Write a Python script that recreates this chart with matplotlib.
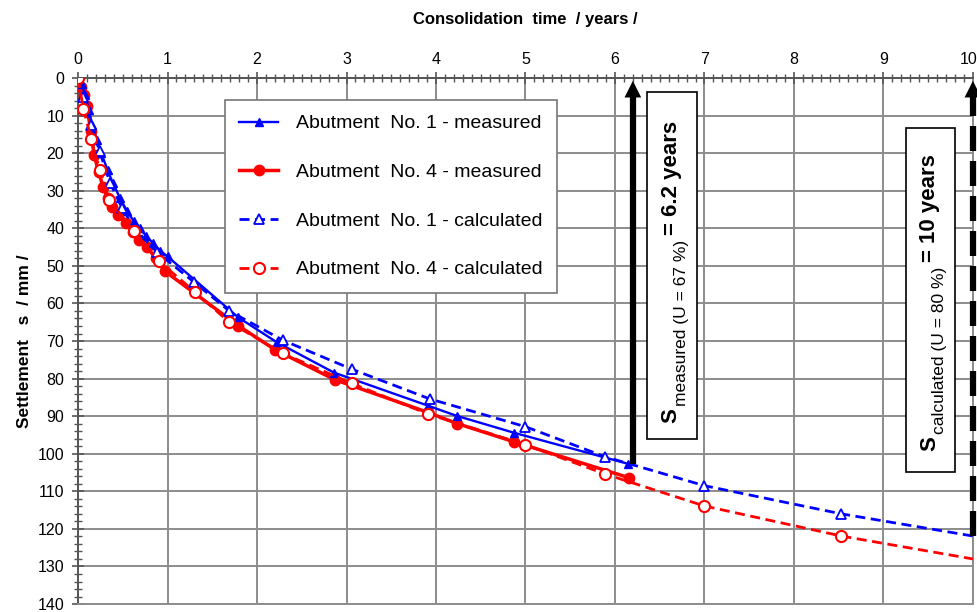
import matplotlib
matplotlib.use('Agg')
import matplotlib.pyplot as plt
from matplotlib.ticker import MultipleLocator, FuncFormatter
from matplotlib.patches import Rectangle
from matplotlib.font_manager import FontProperties

plt.rcParams['font.family'] = ['Liberation Sans', 'DejaVu Sans']

# Abutment No. 1 - measured
t1_meas = [0, 0.04, 0.08, 0.12, 0.16, 0.21, 0.26, 0.33, 0.39, 0.47, 0.55, 0.62, 0.69, 0.76,
           0.84, 0.92, 1.0, 1.79, 2.22, 2.86, 3.91, 4.23, 4.87, 6.15]
s1_meas = [0, 1.5, 4.5, 8.5, 12.5, 16.5, 20, 24.5, 28, 32, 35.5, 38, 40, 42,
           44, 46, 47.5, 63.7, 70.3, 78.4, 87.2, 89.9, 94.4, 102.7]

# Abutment No. 4 - measured
t4_meas = [0, 0.03, 0.07, 0.1, 0.14, 0.18, 0.23, 0.28, 0.33, 0.38, 0.45, 0.54, 0.61, 0.68,
           0.77, 0.87, 0.97, 1.79, 2.2, 2.87, 3.91, 4.24, 4.87, 6.16]
s4_meas = [0, 2.5, 4.5, 7.5, 14, 20.5, 25, 29, 32, 34.4, 36.5, 38.7, 41, 43.2,
           45, 48, 51.4, 65.9, 72.3, 80.3, 89, 92, 96.8, 106.4]

# Abutment No. 1 - calculated
t1_calc = [0, 0.05, 0.15, 0.24, 0.36, 0.49, 0.63, 0.88, 1.3, 1.69, 2.29, 3.06, 3.93,
           5.0, 5.89, 7.0, 8.53, 10.0]
s1_calc = [0, 5, 12.5, 19.5, 28, 34.5, 40, 46.3, 54.4, 62, 69.8, 77.5, 85.4,
           92.8, 100.8, 108.5, 116, 121.9]

# Abutment No. 4 - calculated
t4_calc = [0, 0.06, 0.15, 0.24, 0.35, 0.62, 0.9, 1.31, 1.69, 2.29, 3.06, 3.91,
           5.0, 5.89, 7.0, 8.53, 10.0]
s4_calc = [0, 8.3, 16.3, 24.4, 32.4, 40.7, 48.7, 57, 65, 73.3, 81.3, 89.4,
           97.6, 105.4, 113.9, 121.9, 128]

t_measured, s_measured = 6.2, 102.7
t_calculated, s_calculated = 10.0, 122
t_max = 10

fig = plt.figure(figsize=(9.78, 6.12), dpi=100)
ax = fig.add_axes([0.0798, 0.013, 0.915, 0.8595])

blue = '#0000FF'
red = '#FF0000'

ax.plot(t1_meas, s1_meas, '-', color=blue, lw=1.7, marker='^', ms=6, zorder=5,
        label='Abutment  No. 1 - measured')
ax.plot(t4_meas, s4_meas, '-', color=red, lw=2.5, marker='o', ms=7.5, zorder=4,
        label='Abutment  No. 4 - measured')
ax.plot(t1_calc, s1_calc, '--', color=blue, lw=2, marker='^', ms=7, mfc='white',
        mew=1.3, markevery=slice(0, len(t1_calc) - 1), dashes=(3.6, 2), zorder=6,
        label='Abutment  No. 1 - calculated')
ax.plot(t4_calc, s4_calc, '--', color=red, lw=2, marker='o', ms=8, mfc='white',
        mew=1.5, markevery=slice(0, len(t4_calc) - 1), dashes=(3.6, 2), zorder=6,
        label='Abutment  No. 4 - calculated')

# arrows
ax.plot([t_measured, t_measured], [s_measured, 4], color='black', lw=4.5, zorder=7,
        solid_capstyle='butt')
ax.annotate('', xy=(t_measured, 0), xytext=(t_measured, 5),
            arrowprops=dict(arrowstyle='-|>', color='black', lw=0, mutation_scale=30),
            zorder=7)
ax.plot([t_calculated, t_calculated], [s_calculated, 4], color='black', lw=4.5,
        dashes=(4, 1.6), zorder=7, clip_on=False)
ax.annotate('', xy=(t_calculated, 0), xytext=(t_calculated, 5),
            arrowprops=dict(arrowstyle='-|>', color='black', lw=0, mutation_scale=30),
            zorder=7, annotation_clip=False)

# annotation boxes with S_sub (...) = ... years, written bottom to top
renderer = fig.canvas.get_renderer()
fp_main = FontProperties(family='Liberation Sans', weight='bold', size=16)
fp_sub = FontProperties(family='Liberation Sans', size=12.5)


def text_len(s, fp):
    w, h, d = renderer.get_text_width_height_descent(s, fp, ismath=False)
    return w * 72.0 / fig.dpi


def vertical_label(t, s, main, sub, rest):
    kw = dict(xycoords='data', textcoords='offset points', rotation=90,
              rotation_mode='anchor', ha='left', va='baseline', zorder=9,
              annotation_clip=False)
    ax.annotate(main, xy=(t, s), xytext=(0, 0), fontproperties=fp_main, **kw)
    off = text_len(main, fp_main) + 1.5
    ax.annotate(sub, xy=(t, s), xytext=(6.5, off), fontproperties=fp_sub, **kw)
    off += text_len(sub, fp_sub) + 3
    ax.annotate(rest, xy=(t, s), xytext=(0, off), fontproperties=fp_main, **kw)


ax.add_patch(Rectangle((6.36, 3.7), 0.56, 92.3, fc='white', ec='black', lw=1.2, zorder=8))
vertical_label(6.69, 91.7, 'S', 'measured (U = 67 %)', '= 6.2 years')
ax.add_patch(Rectangle((9.25, 13.3), 0.55, 91.5, fc='white', ec='black', lw=1.2, zorder=8))
vertical_label(9.58, 99.2, 'S', 'calculated (U = 80 %)', '= 10 years')

ax.set_xlim(0, t_max)
ax.set_ylim(140, 0)
ax.xaxis.set_major_locator(MultipleLocator(1))
ax.xaxis.set_minor_locator(MultipleLocator(0.1))
ax.yaxis.set_major_locator(MultipleLocator(10))
ax.yaxis.set_minor_locator(MultipleLocator(2))
# last label ("10") is drawn separately, right-aligned, so it stays in the picture
ax.xaxis.set_major_formatter(FuncFormatter(lambda v, p: '' if v >= t_max else '%d' % v))
ax.xaxis.tick_top()
ax.xaxis.set_label_position('top')
ax.tick_params(axis='both', which='major', direction='inout', length=8, width=1.2,
               color='#555555', labelsize=11.5, pad=6)
ax.tick_params(axis='x', which='major', pad=4)
ax.tick_params(axis='both', which='minor', direction='inout', length=6, width=1,
               color='#555555')
ax.tick_params(axis='x', which='both', bottom=False, top=True)
ax.tick_params(axis='y', which='both', left=True, right=False)
ax.annotate('%d' % t_max, xy=(t_max, 1), xycoords=('data', 'axes fraction'),
            xytext=(3, 8), textcoords='offset points', ha='right', va='bottom',
            fontsize=11.5, annotation_clip=False)
ax.grid(True, which='major', color='#8c8c8c', lw=1.4)
for side, sp in ax.spines.items():
    sp.set_color('#8c8c8c')
    sp.set_linewidth(1.4)
ax.spines['left'].set_color('#555555')
ax.spines['top'].set_color('#555555')

ax.set_xlabel('Consolidation  time  / years /', fontsize=12, fontweight='bold', labelpad=20)
ax.set_ylabel('Settlement   s  / mm /', fontsize=12.5, fontweight='bold', labelpad=4)

leg = ax.legend(loc='upper left', bbox_to_anchor=(0.164, 0.958), borderaxespad=0,
                fontsize=14, fancybox=False, framealpha=1, edgecolor='#777777',
                labelspacing=1.6, handlelength=2.0, handletextpad=0.9, borderpad=0.75)
leg.get_frame().set_linewidth(1.2)
leg.set_zorder(9)

plt.savefig('out.png', dpi=100)
